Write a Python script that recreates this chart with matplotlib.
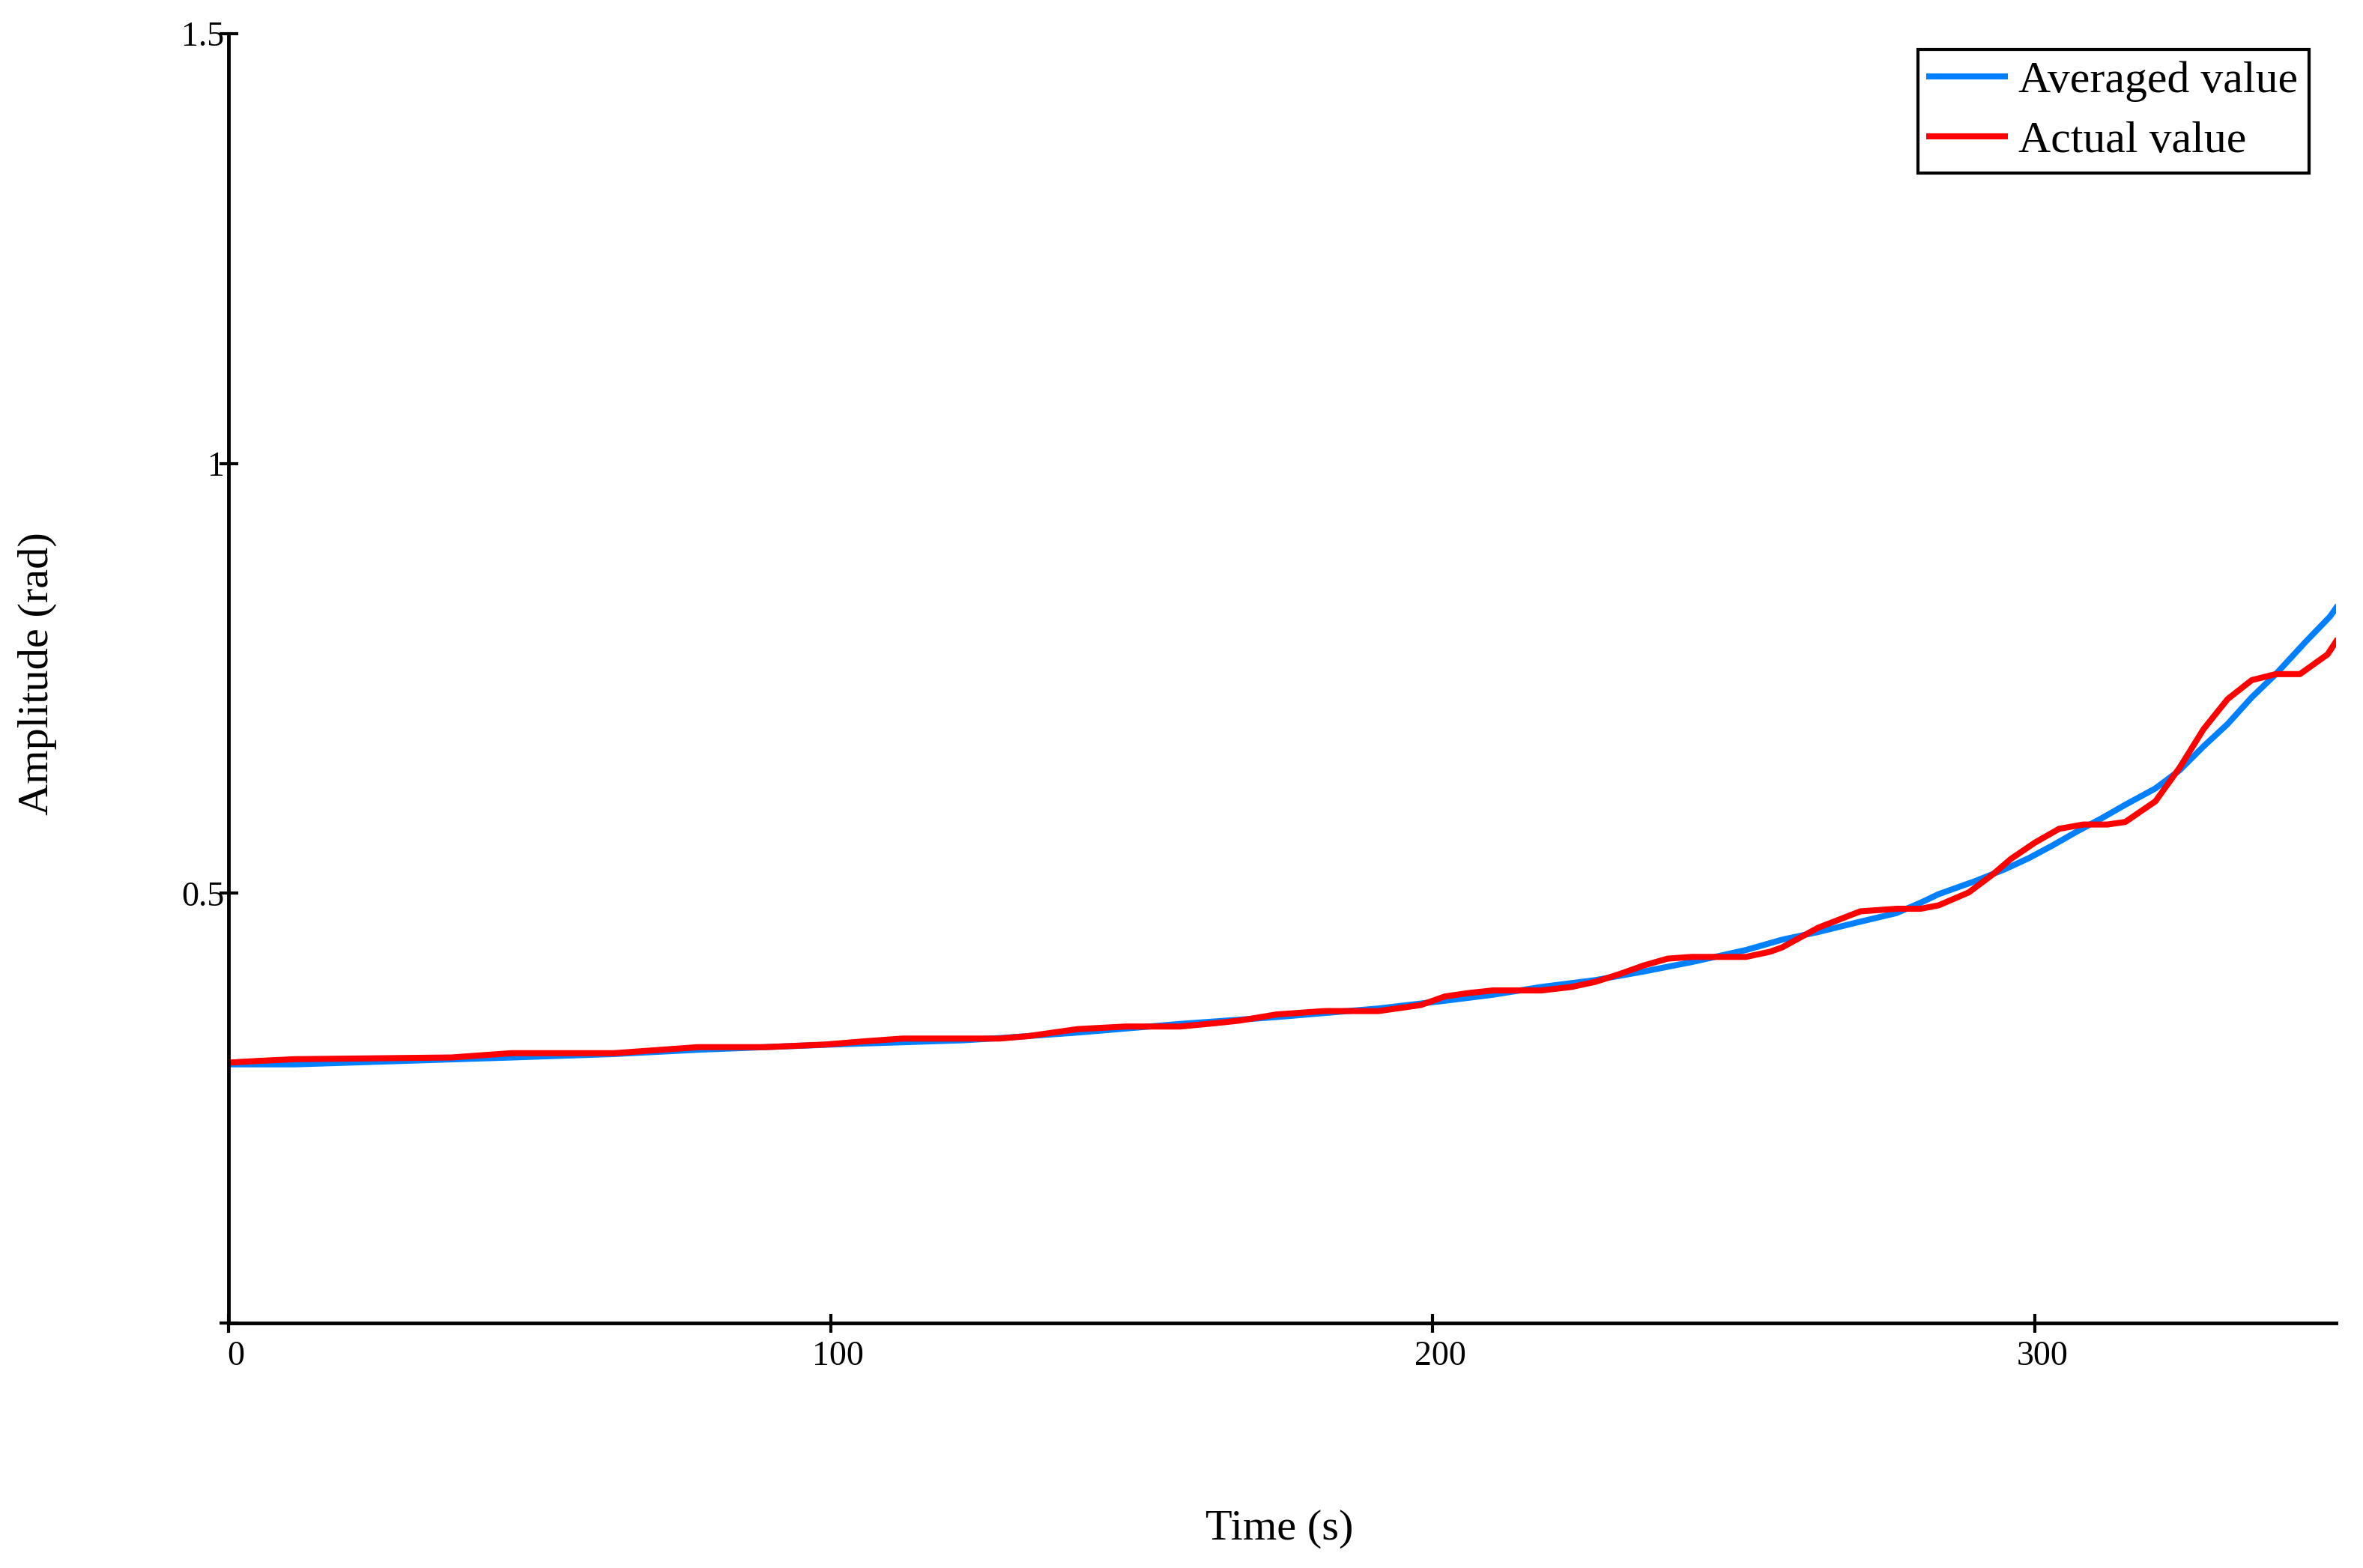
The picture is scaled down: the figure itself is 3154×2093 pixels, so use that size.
import numpy as np
import matplotlib
matplotlib.use('Agg')
import matplotlib.pyplot as plt
import matplotlib.transforms as mtransforms

plt.rcParams['font.family'] = ['Liberation Serif', 'DejaVu Serif']

# averaged value (blue)
t_avg = [0, 11, 47, 64, 78, 100, 122, 129, 141, 158, 174, 191, 202, 210, 218,
         227, 235, 243, 252, 258, 264, 271, 277, 281, 284, 290, 295, 299, 303,
         307, 311, 315, 320, 324, 328, 332, 336, 340, 345, 349, 350]
v_avg = [0.301, 0.301, 0.309, 0.313, 0.318, 0.324, 0.329, 0.332, 0.338, 0.348,
         0.356, 0.366, 0.375, 0.382, 0.391, 0.399, 0.409, 0.420, 0.434, 0.446,
         0.455, 0.467, 0.477, 0.489, 0.499, 0.514, 0.528, 0.541, 0.556, 0.572,
         0.587, 0.603, 0.622, 0.643, 0.671, 0.697, 0.728, 0.755, 0.793, 0.822,
         0.832]

# actual value (red)
t_act = [0, 5, 11, 37, 47, 64, 70, 78, 89, 99, 106, 112, 128, 133, 137, 141,
         149, 158, 164, 168, 174, 182, 191, 194, 198, 202, 206, 210, 218, 223,
         227, 231, 235, 239, 243, 252, 256, 258, 264, 271, 277, 281, 284, 289,
         293, 296, 300, 304, 308, 312, 315, 320, 324, 328, 332, 336, 340, 344,
         348.6, 350]
v_act = [0.303, 0.305, 0.307, 0.309, 0.314, 0.314, 0.317, 0.321, 0.321, 0.324,
         0.328, 0.331, 0.331, 0.334, 0.338, 0.342, 0.345, 0.345, 0.349, 0.352,
         0.359, 0.363, 0.363, 0.366, 0.370, 0.380, 0.384, 0.387, 0.387, 0.391,
         0.397, 0.406, 0.416, 0.424, 0.426, 0.426, 0.432, 0.437, 0.460, 0.479,
         0.482, 0.482, 0.486, 0.501, 0.522, 0.540, 0.559, 0.575, 0.580, 0.580,
         0.583, 0.607, 0.646, 0.691, 0.726, 0.748, 0.755, 0.755, 0.778, 0.793]

x_ticks = [0, 100, 200, 300]
y_ticks = [0, 0.5, 1, 1.5]
y_tick_labels = ['', '0.5', '1', '1.5']

fig = plt.figure(figsize=(31.54, 20.93), dpi=100)
ax = fig.add_axes([0.0967, 0.1562, 0.8919, 0.8223])

ax.plot(t_avg, v_avg, color='#0080ff', lw=5.8, label='Averaged value')
ax.plot(t_act, v_act, color='#ff0000', lw=5.8, label='Actual value')

ax.set_xlim(0, 350)
ax.set_ylim(0, 1.5)
ax.set_xticks(x_ticks)
ax.set_yticks(y_ticks)
ax.set_yticklabels(y_tick_labels)

for s in ['top', 'right']:
    ax.spines[s].set_visible(False)
for s in ['left', 'bottom']:
    ax.spines[s].set_linewidth(3.5)
ax.tick_params(direction='inout', length=18, width=3, labelsize=33)
ax.tick_params(axis='x', pad=8)
ax.tick_params(axis='y', pad=-5)

# x tick labels sit a little right of their ticks in the original
shift = mtransforms.ScaledTranslation(0.1, 0, fig.dpi_scale_trans)
for lab in ax.get_xticklabels():
    lab.set_transform(lab.get_transform() + shift)

fig.text(0.5415, 1 - 2041 / 2093, 'Time (s)', fontsize=42, ha='center', va='center')
fig.text(50 / 3154, 1 - 899 / 2093, 'Amplitude (rad)', fontsize=42,
         ha='center', va='center', rotation=90)

leg = ax.legend(loc='upper right', bbox_to_anchor=(3082 / 3154, 1 - 66 / 2093),
                bbox_transform=fig.transFigure, borderaxespad=0, fontsize=43,
                fancybox=False, framealpha=1, edgecolor='black',
                handlelength=1.7, handletextpad=0.3, borderpad=0.25,
                labelspacing=0.42)
leg.get_frame().set_linewidth(3)

fig.savefig('out.png', dpi=100)
